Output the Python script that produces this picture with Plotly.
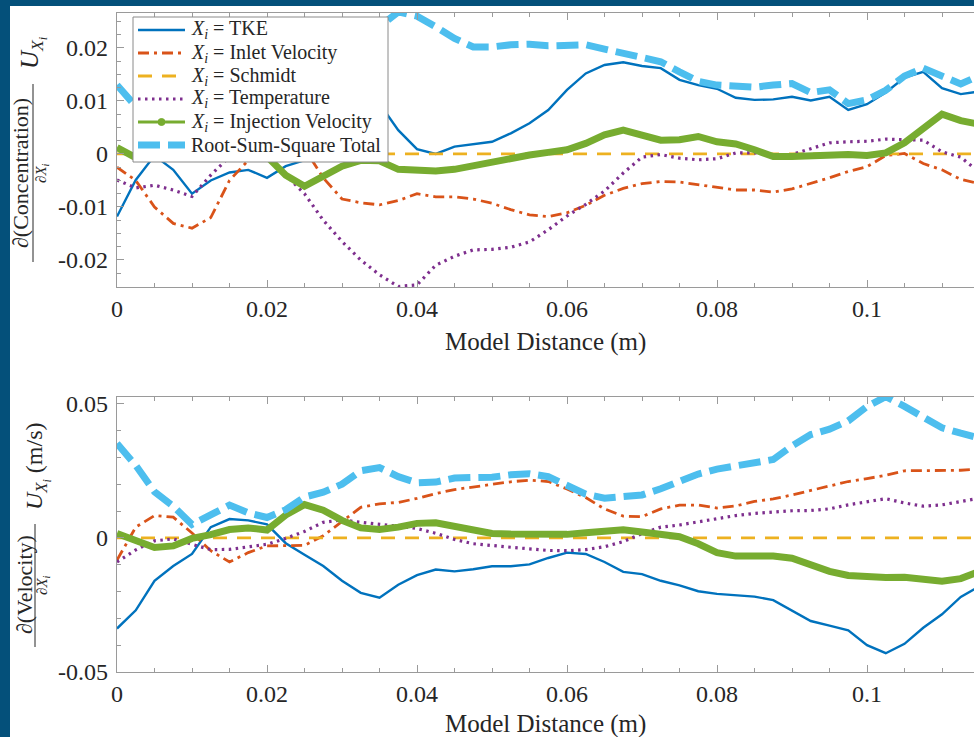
import plotly.graph_objects as go

# ---------------- data ----------------
X = [0.0, 0.0025, 0.005, 0.0075, 0.01, 0.0125, 0.015, 0.0175, 0.02, 0.0225,
     0.025, 0.0275, 0.03, 0.0325, 0.035, 0.0375, 0.04, 0.0425, 0.045, 0.0475,
     0.05, 0.0525, 0.055, 0.0575, 0.06, 0.0625, 0.065, 0.0675, 0.07, 0.0725,
     0.075, 0.0775, 0.08, 0.0825, 0.085, 0.0875, 0.09, 0.0925, 0.095, 0.0975,
     0.1, 0.1025, 0.105, 0.1075, 0.11, 0.1125, 0.115]

# Top panel: d(Concentration)/dX_i * U_Xi
C_TKE = [-0.0118, -0.0049, -0.0003, -0.0030, -0.0075, -0.0050, -0.0035, -0.0030, -0.0045, -0.0023,
         -0.0012, 0.0030, 0.0075, 0.0105, 0.0095, 0.0045, 0.0009, 0.0000, 0.0014, 0.0018,
         0.0023, 0.0039, 0.0058, 0.0083, 0.0121, 0.0152, 0.0168, 0.0173, 0.0166, 0.0162,
         0.0140, 0.0130, 0.0123, 0.0106, 0.0102, 0.0103, 0.0108, 0.0101, 0.0108, 0.0083,
         0.0094, 0.0116, 0.0144, 0.0155, 0.0124, 0.0113, 0.0118]
C_INLET = [-0.0025, -0.0050, -0.0100, -0.0131, -0.0140, -0.0120, -0.0050, -0.0012, 0.0010, 0.0020,
           0.0010, -0.0045, -0.0085, -0.0092, -0.0096, -0.0088, -0.0075, -0.0081, -0.0081, -0.0085,
           -0.0093, -0.0105, -0.0115, -0.0118, -0.0111, -0.0097, -0.0078, -0.0065, -0.0056, -0.0052,
           -0.0053, -0.0058, -0.0064, -0.0068, -0.0068, -0.0072, -0.0066, -0.0056, -0.0045, -0.0033,
           -0.0024, -0.0003, 0.0001, -0.0018, -0.0030, -0.0048, -0.0056]
C_SCHMIDT = [0.0] * 47
C_TEMP = [-0.0049, -0.0064, -0.0059, -0.0068, -0.0080, -0.0040, -0.0005, 0.0003, -0.0005, -0.0040,
          -0.0075, -0.0125, -0.0165, -0.0200, -0.0228, -0.0250, -0.0247, -0.0210, -0.0193, -0.0181,
          -0.0180, -0.0176, -0.0166, -0.0143, -0.0117, -0.0095, -0.0070, -0.0036, -0.0006, -0.0001,
          -0.0008, -0.0011, -0.0009, 0.0002, 0.0002, -0.0002, -0.0001, 0.0010, 0.0021, 0.0023,
          0.0024, 0.0028, 0.0027, 0.0026, 0.0004, -0.0006, -0.0035]
C_INJ = [0.0012, -0.0007, -0.0007, 0.0000, 0.0003, 0.0003, 0.0000, 0.0002, -0.0005, -0.0040,
         -0.0061, -0.0042, -0.0023, -0.0012, -0.0013, -0.0029, -0.0032, -0.0032, -0.0029, -0.0022,
         -0.0013, -0.0008, -0.0002, 0.0003, 0.0008, 0.0020, 0.0036, 0.0045, 0.0034, 0.0026,
         0.0027, 0.0033, 0.0023, 0.0019, 0.0008, -0.0005, -0.0005, -0.0003, 0.0000, -0.0001,
         -0.0003, 0.0002, 0.0021, 0.0046, 0.0075, 0.0063, 0.0056]
C_RSS = [0.0130, 0.0090, 0.0075, 0.0080, 0.0085, 0.0075, 0.0065, 0.0065, 0.0075, 0.0070,
         0.0070, 0.0100, 0.0140, 0.0190, 0.0240, 0.0268, 0.0260, 0.0240, 0.0218, 0.0202,
         0.0202, 0.0206, 0.0207, 0.0204, 0.0204, 0.0206, 0.0198, 0.0190, 0.0180, 0.0174,
         0.0155, 0.0137, 0.0130, 0.0127, 0.0126, 0.0130, 0.0133, 0.0116, 0.0121, 0.0095,
         0.0102, 0.0120, 0.0147, 0.0162, 0.0146, 0.0132, 0.0148]

# Bottom panel: d(Velocity)/dX_i * U_Xi (m/s)
V_TKE = [-0.0338, -0.0270, -0.0160, -0.0105, -0.0060, 0.0040, 0.0070, 0.0065, 0.0050, -0.0020,
         -0.0063, -0.0105, -0.0160, -0.0205, -0.0223, -0.0175, -0.0139, -0.0118, -0.0125, -0.0117,
         -0.0106, -0.0106, -0.0099, -0.0075, -0.0055, -0.0060, -0.0090, -0.0127, -0.0135, -0.0160,
         -0.0177, -0.0199, -0.0209, -0.0214, -0.0219, -0.0232, -0.0272, -0.0310, -0.0327, -0.0345,
         -0.0400, -0.0430, -0.0395, -0.0335, -0.0285, -0.0220, -0.0180]
V_INLET = [-0.0083, 0.0040, 0.0083, 0.0077, 0.0018, -0.0048, -0.0090, -0.0055, -0.0030, -0.0028,
           -0.0028, 0.0008, 0.0060, 0.0114, 0.0127, 0.0132, 0.0147, 0.0165, 0.0180, 0.0189,
           0.0199, 0.0209, 0.0215, 0.0210, 0.0182, 0.0150, 0.0108, 0.0081, 0.0079, 0.0108,
           0.0122, 0.0122, 0.0111, 0.0119, 0.0136, 0.0145, 0.0160, 0.0176, 0.0193, 0.0210,
           0.0221, 0.0233, 0.0250, 0.0250, 0.0250, 0.0252, 0.0256]
V_SCHMIDT = [0.0] * 47
V_TEMP = [-0.0090, -0.0045, -0.0011, -0.0004, -0.0024, -0.0044, -0.0043, -0.0035, -0.0024, -0.0002,
          0.0024, 0.0058, 0.0067, 0.0058, 0.0050, 0.0042, 0.0035, 0.0017, -0.0006, -0.0022,
          -0.0030, -0.0035, -0.0041, -0.0047, -0.0048, -0.0044, -0.0033, -0.0014, 0.0016, 0.0040,
          0.0048, 0.0059, 0.0073, 0.0083, 0.0091, 0.0097, 0.0101, 0.0102, 0.0108, 0.0123,
          0.0134, 0.0146, 0.0130, 0.0118, 0.0123, 0.0135, 0.0148]
V_INJ = [0.0016, -0.0012, -0.0036, -0.0030, -0.0002, 0.0012, 0.0031, 0.0037, 0.0029, 0.0085,
         0.0124, 0.0103, 0.0065, 0.0037, 0.0031, 0.0040, 0.0054, 0.0056, 0.0043, 0.0025,
         0.0016, 0.0014, 0.0013, 0.0011, 0.0013, 0.0019, 0.0027, 0.0030, 0.0022, 0.0013,
         0.0004, -0.0022, -0.0055, -0.0068, -0.0068, -0.0068, -0.0076, -0.0100, -0.0125, -0.0140,
         -0.0146, -0.0148, -0.0147, -0.0155, -0.0162, -0.0152, -0.0125]
V_RSS = [0.0352, 0.0270, 0.0172, 0.0118, 0.0050, 0.0088, 0.0122, 0.0093, 0.0076, 0.0105,
         0.0152, 0.0170, 0.0200, 0.0250, 0.0262, 0.0228, 0.0205, 0.0208, 0.0223, 0.0225,
         0.0226, 0.0235, 0.0239, 0.0228, 0.0192, 0.0163, 0.0148, 0.0153, 0.0160, 0.0183,
         0.0212, 0.0238, 0.0256, 0.0268, 0.0278, 0.0292, 0.0343, 0.0385, 0.0405, 0.0436,
         0.0490, 0.0526, 0.0490, 0.0448, 0.0410, 0.0390, 0.0372]

LEGEND_NAMES = ["<i>X<sub>i</sub></i> = TKE", "<i>X<sub>i</sub></i> = Inlet Velocity",
                "<i>X<sub>i</sub></i> = Schmidt", "<i>X<sub>i</sub></i> = Temperature",
                "<i>X<sub>i</sub></i> = Injection Velocity", "Root-Sum-Square Total"]
X_TICKS = [0, 0.02, 0.04, 0.06, 0.08, 0.1]
X_TICKTEXT = ["0", "0.02", "0.04", "0.06", "0.08", "0.1"]
C_TICKS = [-0.02, -0.01, 0, 0.01, 0.02]
C_TICKTEXT = ["-0.02", "-0.01", "0", "0.01", "0.02"]
V_TICKS = [-0.05, 0, 0.05]
V_TICKTEXT = ["-0.05", "0", "0.05"]

# ---------------- styles ----------------
COL = ["#0072BD", "#D95319", "#EDB120", "#7E2F8E", "#77AC30", "#4DBEEE"]
STYLE = [
    dict(width=2.4, dash="solid"),
    dict(width=2.8, dash="11px,5px,3px,5px"),
    dict(width=2.8, dash="14px,10px"),
    dict(width=3.2, dash="2.5px,4.5px"),
    dict(width=7, dash="solid"),
    dict(width=7, dash="22px,8px"),
]
FONT = "Liberation Serif, DejaVu Serif, serif"

W, H = 974, 737
ML, MR, MT, MB = 117, 0, 13, 65
PW, PH = W - ML - MR, H - MT - MB


def px(xp):
    return (xp - ML) / PW


def py(yp):
    return (H - MB - yp) / PH


fig = go.Figure()

top_series = [C_TKE, C_INLET, C_SCHMIDT, C_TEMP, C_INJ, C_RSS]
bot_series = [V_TKE, V_INLET, V_SCHMIDT, V_TEMP, V_INJ, V_RSS]

for i, ys in enumerate(top_series):
    fig.add_trace(go.Scatter(
        x=X, y=ys, mode="lines", name=LEGEND_NAMES[i],
        line=dict(color=COL[i], width=STYLE[i]["width"], dash=STYLE[i]["dash"]),
        showlegend=False, xaxis="x", yaxis="y", hoverinfo="skip"))

for i, ys in enumerate(bot_series):
    fig.add_trace(go.Scatter(
        x=X, y=ys, mode="lines", name=LEGEND_NAMES[i],
        line=dict(color=COL[i], width=STYLE[i]["width"], dash=STYLE[i]["dash"]),
        showlegend=False, xaxis="x2", yaxis="y2", hoverinfo="skip"))

AX = "#9a9a9a"
TXT = "#262626"
XRANGE = [0, (W - ML) / 7500.0]

xcommon = dict(range=XRANGE, tickvals=X_TICKS, ticktext=X_TICKTEXT,
               ticks="inside", ticklen=7, tickwidth=1, tickcolor=AX,
               minor=dict(dtick=0.005, tick0=0, ticks="inside", ticklen=4, tickcolor=AX),
               showline=True, linecolor=AX, linewidth=1.3, mirror="ticks",
               showgrid=False, zeroline=False,
               tickfont=dict(family=FONT, size=24, color=TXT), ticklabelstandoff=0)
ycommon = dict(ticks="inside", ticklen=7, tickwidth=1, tickcolor=AX,
               showline=True, linecolor=AX, linewidth=1.3, mirror=False,
               showgrid=False, zeroline=False,
               tickfont=dict(family=FONT, size=24, color=TXT), ticklabelstandoff=3)

top_dom = [py(287), 1.0]
bot_dom = [0.0, py(397)]

# ---- legend drawn as a boxed key (top panel) ----
LEG_X0, LEG_X1, LEG_Y0, LEG_Y1 = 133, 388, 17, 162
ROW_Y = [30, 53, 76, 99, 122, 145]
SAMPLE_X0, SAMPLE_X1, TEXT_X = 138, 185, 189

shapes = [
    dict(type="rect", xref="paper", yref="paper", layer="below",
         x0=px(10), x1=1.02, y0=py(H + 10), y1=py(6),
         fillcolor="white", line=dict(width=0)),
    # fraction bars of the y-axis labels
    dict(type="line", xref="paper", yref="paper",
         x0=px(33), x1=px(33), y0=py(84), y1=py(262),
         line=dict(color=TXT, width=1)),
    dict(type="line", xref="paper", yref="paper",
         x0=px(35), x1=px(35), y0=py(524), y1=py(647),
         line=dict(color=TXT, width=1)),
    dict(type="rect", xref="paper", yref="paper", layer="above",
         x0=px(LEG_X0), x1=px(LEG_X1), y0=py(LEG_Y1), y1=py(LEG_Y0),
         fillcolor="white", line=dict(color="#8a8a8a", width=1)),
]
ann = []
for i, ry in enumerate(ROW_Y):
    w = STYLE[i]["width"] if i != 4 else 3
    shapes.append(dict(type="line", xref="paper", yref="paper", layer="above",
                       x0=px(SAMPLE_X0), x1=px(SAMPLE_X1), y0=py(ry), y1=py(ry),
                       line=dict(color=COL[i], width=w, dash=STYLE[i]["dash"])))
    if i == 4:
        cx = (SAMPLE_X0 + SAMPLE_X1) / 2
        shapes.append(dict(type="circle", xref="paper", yref="paper", layer="above",
                           x0=px(cx - 3.5), x1=px(cx + 3.5), y0=py(ry + 3.5), y1=py(ry - 3.5),
                           fillcolor=COL[4], line=dict(color=COL[4], width=1)))
    ann.append(dict(text=LEGEND_NAMES[i], x=px(TEXT_X), y=py(ry), xanchor="left",
                    font=dict(family=FONT, size=20, color=TXT)))

fig.update_layout(
    width=W, height=H,
    margin=dict(l=ML, r=MR, t=MT, b=MB, pad=0),
    paper_bgcolor="#04507A", plot_bgcolor="white",
    xaxis=dict(domain=[0, 1], anchor="y", **xcommon),
    yaxis=dict(domain=top_dom, anchor="x", range=[-0.0251, 0.0266],
               tickvals=C_TICKS, ticktext=C_TICKTEXT,
               minor=dict(dtick=0.0025, tick0=0, ticks="inside", ticklen=4, tickcolor=AX),
               **ycommon),
    xaxis2=dict(domain=[0, 1], anchor="y2", **xcommon),
    yaxis2=dict(domain=bot_dom, anchor="x2", range=[-0.05, 0.0525],
                tickvals=V_TICKS, ticktext=V_TICKTEXT,
                minor=dict(dtick=0.01, tick0=0, ticks="inside", ticklen=4, tickcolor=AX),
                **ycommon),
    showlegend=False,
    shapes=shapes,
)

for yp in (342, 724):
    ann.append(dict(text="Model Distance (m)", x=px(545), y=py(yp),
                    font=dict(family=FONT, size=25, color=TXT)))
# y-axis labels
ann += [
    dict(text="∂(Concentration)", x=px(21), y=py(173), textangle=-90,
         font=dict(family=FONT, size=22, color=TXT)),
    dict(text="∂<i>X<sub>i</sub></i>", x=px(42), y=py(173), textangle=-90,
         font=dict(family=FONT, size=15, color=TXT)),
    dict(text="<i>U<sub>X<sub>i</sub></sub></i>", x=px(33), y=py(53), textangle=-90,
         font=dict(family=FONT, size=25, color=TXT)),
    dict(text="∂(Velocity)", x=px(24), y=py(585), textangle=-90,
         font=dict(family=FONT, size=22, color=TXT)),
    dict(text="∂<i>X<sub>i</sub></i>", x=px(43), y=py(585), textangle=-90,
         font=dict(family=FONT, size=15, color=TXT)),
    dict(text="<i>U<sub>X<sub>i</sub></sub></i> (m/s)", x=px(37), y=py(466), textangle=-90,
         font=dict(family=FONT, size=24, color=TXT)),
]
for a in ann:
    a.setdefault("xref", "paper")
    a.setdefault("yref", "paper")
    a.setdefault("xanchor", "center")
    a.setdefault("yanchor", "middle")
    a.setdefault("showarrow", False)
fig.update_layout(annotations=ann)

fig.write_html("out.html", config={"displayModeBar": False},
               post_script="document.body.style.margin='0';document.body.style.overflow='hidden';")
